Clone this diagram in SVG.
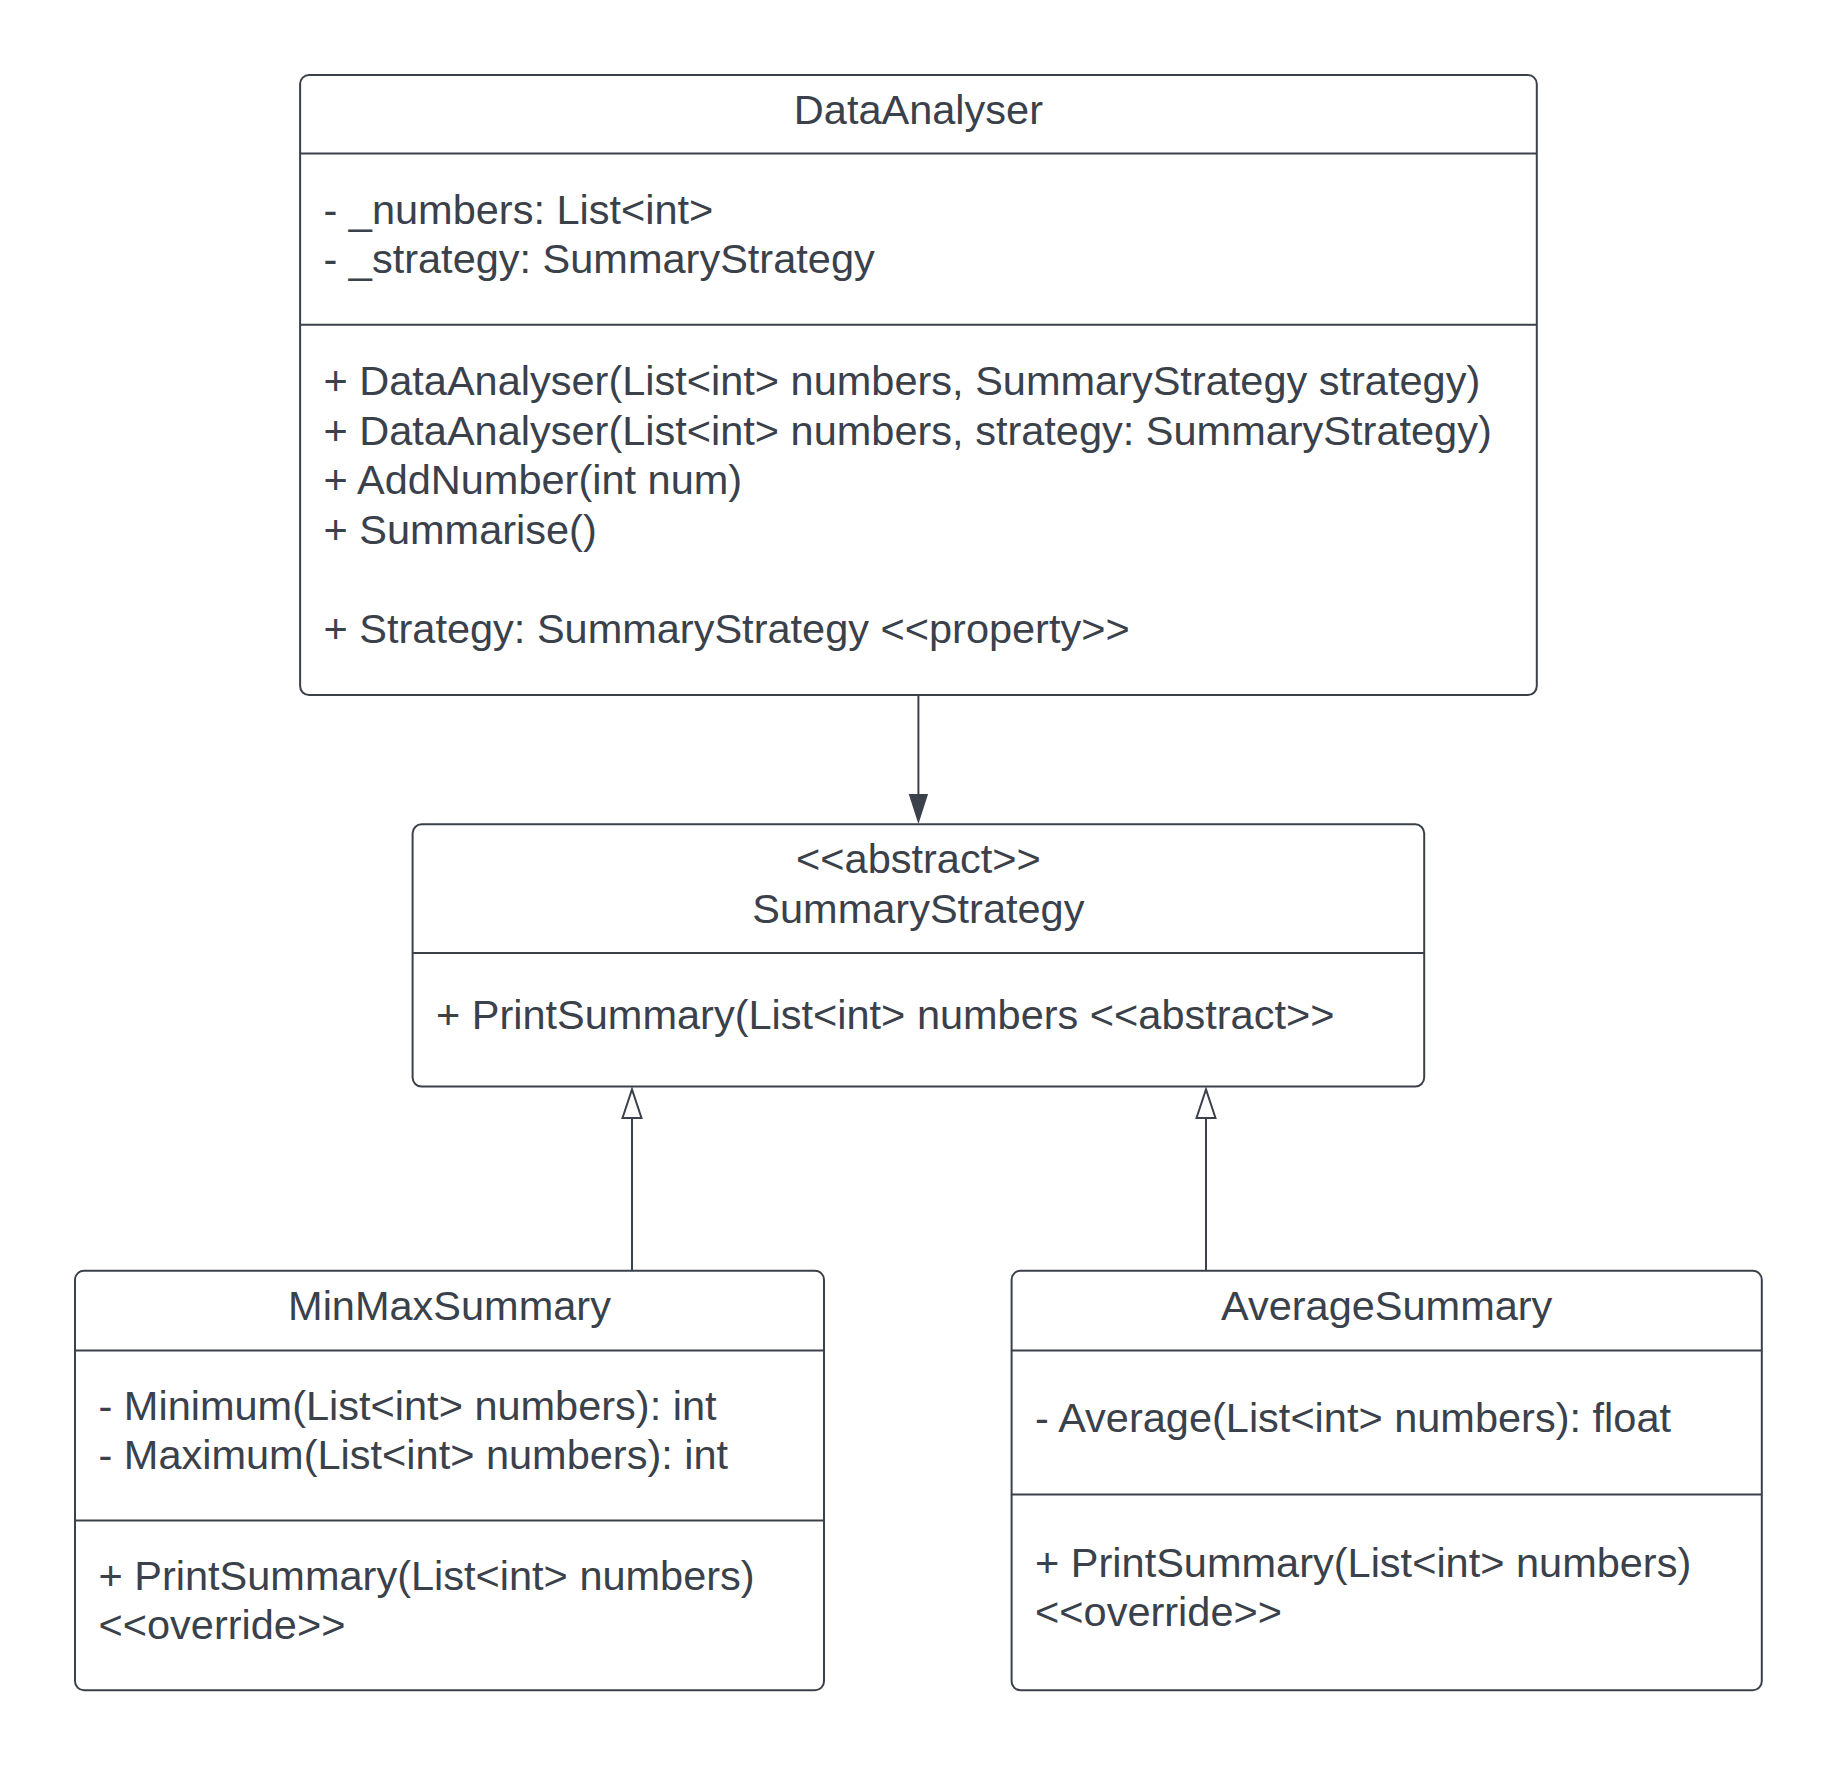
<svg xmlns="http://www.w3.org/2000/svg" width="1838" height="1766" viewBox="0 0 1838 1766">
  <style>
    .box { fill: #ffffff; stroke: #3a414a; stroke-width: 2; }
    .div { stroke: #3a414a; stroke-width: 2; fill: none; }
    .t { font-family: "Liberation Sans", Arial, sans-serif; font-size: 41.5px; fill: #3a414a; }
    .c { text-anchor: middle; }
    .conn { stroke: #3a414a; stroke-width: 2; fill: none; }
  </style>
  <defs>
    <marker id="filled" markerUnits="userSpaceOnUse" viewBox="-1 -1 32 22" markerWidth="32" markerHeight="22" refX="0" refY="9.7" orient="auto">
      <path d="M0,0 L30,9.7 L0,19.4 Z" fill="#3a414a"/>
    </marker>
    <marker id="hollow" markerUnits="userSpaceOnUse" viewBox="-2 -2 34 24" markerWidth="34" markerHeight="24" refX="0" refY="9.5" orient="auto">
      <path d="M0,0 L28.5,9.5 L0,19 Z" fill="#ffffff" stroke="#3a414a" stroke-width="2" stroke-linejoin="miter"/>
    </marker>
  </defs>
  <rect width="1838" height="1766" fill="#ffffff"/>

  <g id="connectors">
    <line class="conn" x1="918.4" y1="695" x2="918.4" y2="794" marker-end="url(#filled)"/>
    <line class="conn" x1="632" y1="1270.7" x2="632" y2="1118" marker-end="url(#hollow)"/>
    <line class="conn" x1="1206" y1="1270.7" x2="1206" y2="1118" marker-end="url(#hollow)"/>
  </g>

  <g id="DataAnalyser">
    <rect class="box" x="300.1" y="75" width="1236.7" height="620.1" rx="9"/>
    <line class="div" x1="300.1" y1="153.6" x2="1536.8" y2="153.6"/>
    <line class="div" x1="300.1" y1="324.7" x2="1536.8" y2="324.7"/>
    <text class="t c" x="918.4" y="123.5">DataAnalyser</text>
    <text class="t" x="323.5" y="223.6">- _numbers: List&lt;int&gt;</text>
    <text class="t" x="323.5" y="273.1">- _strategy: SummaryStrategy</text>
    <text class="t" x="323.5" y="395.3">+ DataAnalyser(List&lt;int&gt; numbers, SummaryStrategy strategy)</text>
    <text class="t" x="323.5" y="444.8">+ DataAnalyser(List&lt;int&gt; numbers, strategy: SummaryStrategy)</text>
    <text class="t" x="323.5" y="494.3">+ AddNumber(int num)</text>
    <text class="t" x="323.5" y="543.8">+ Summarise()</text>
    <text class="t" x="323.5" y="642.8">+ Strategy: SummaryStrategy &lt;&lt;property&gt;&gt;</text>
  </g>

  <g id="SummaryStrategy">
    <rect class="box" x="412.6" y="824.3" width="1011.6" height="262.3" rx="9"/>
    <line class="div" x1="412.6" y1="953" x2="1424.2" y2="953"/>
    <text class="t c" x="918.4" y="873">&lt;&lt;abstract&gt;&gt;</text>
    <text class="t c" x="918.4" y="922.5">SummaryStrategy</text>
    <text class="t" x="436" y="1029">+ PrintSummary(List&lt;int&gt; numbers &lt;&lt;abstract&gt;&gt;</text>
  </g>

  <g id="MinMaxSummary">
    <rect class="box" x="75" y="1270.7" width="749" height="419.6" rx="9"/>
    <line class="div" x1="75" y1="1350.4" x2="824" y2="1350.4"/>
    <line class="div" x1="75" y1="1520.4" x2="824" y2="1520.4"/>
    <text class="t c" x="449.5" y="1319.8">MinMaxSummary</text>
    <text class="t" x="98.5" y="1419.9">- Minimum(List&lt;int&gt; numbers): int</text>
    <text class="t" x="98.5" y="1469.4">- Maximum(List&lt;int&gt; numbers): int</text>
    <text class="t" x="98.5" y="1589.8">+ PrintSummary(List&lt;int&gt; numbers)</text>
    <text class="t" x="98.5" y="1639.3">&lt;&lt;override&gt;&gt;</text>
  </g>

  <g id="AverageSummary">
    <rect class="box" x="1011.6" y="1270.7" width="750.2" height="419.6" rx="9"/>
    <line class="div" x1="1011.6" y1="1350.4" x2="1761.8" y2="1350.4"/>
    <line class="div" x1="1011.6" y1="1494.6" x2="1761.8" y2="1494.6"/>
    <text class="t c" x="1386.7" y="1319.8">AverageSummary</text>
    <text class="t" x="1035.1" y="1431.7">- Average(List&lt;int&gt; numbers): float</text>
    <text class="t" x="1035.1" y="1576.9">+ PrintSummary(List&lt;int&gt; numbers)</text>
    <text class="t" x="1035.1" y="1626.4">&lt;&lt;override&gt;&gt;</text>
  </g>
</svg>
